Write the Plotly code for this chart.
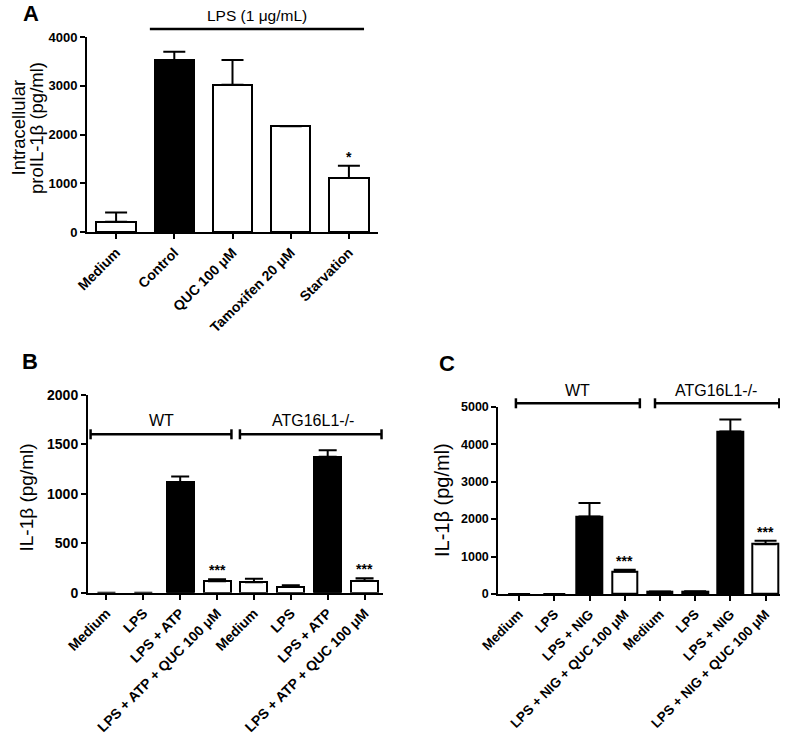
import plotly.graph_objects as go

# ---------------- data ----------------
A_cats = ["Medium", "Control", "QUC 100 μM", "Tamoxifen 20 μM", "Starvation"]
A_vals = [210, 3520, 3020, 2170, 1110]
A_err = [190, 180, 510, 0, 250]
A_fill = ["white", "black", "white", "white", "white"]
A_sig = ["", "", "", "", "*"]

B_cats = ["Medium", "LPS", "LPS + ATP", "LPS + ATP + QUC 100 μM",
          "Medium", "LPS", "LPS + ATP", "LPS + ATP + QUC 100 μM"]
B_vals = [0, 0, 1120, 115, 105, 60, 1375, 120]
B_err = [0, 0, 55, 22, 35, 15, 65, 25]
B_fill = ["white", "white", "black", "white", "white", "white", "black", "white"]
B_sig = ["", "", "", "***", "", "", "", "***"]

C_cats = ["Medium", "LPS", "LPS + NIG", "LPS + NIG + QUC 100 μM",
          "Medium", "LPS", "LPS + NIG", "LPS + NIG + QUC 100 μM"]
C_vals = [0, 0, 2070, 600, 50, 60, 4340, 1330]
C_err = [0, 0, 360, 45, 20, 15, 320, 90]
C_fill = ["white", "white", "black", "white", "white", "white", "black", "white"]
C_sig = ["", "", "", "***", "", "", "", "***"]

groups = ["WT", "ATG16L1-/-"]

# ---------------- figure ----------------
W, H = 787, 743
FONT = "Arial, Liberation Sans, sans-serif"

def px(x):
    return x / W

def py(y):
    return 1 - y / H

fig = go.Figure()

panels = [
    ("x", "y", A_cats, A_vals, A_err, A_fill, A_sig, 0.68, 11),
    ("x2", "y2", B_cats, B_vals, B_err, B_fill, B_sig, 0.73, 9),
    ("x3", "y3", C_cats, C_vals, C_err, C_fill, C_sig, 0.73, 11),
]

annotations = []
shapes = []

for xa, ya, cats, vals, err, fill, sig, bw, capw in panels:
    xs = list(range(len(cats)))
    err_plus = [e if e > 0 else None for e in err]
    err_minus = [0 if e > 0 else None for e in err]
    line_c = ["black" if v > 0 else "rgba(0,0,0,0)" for v in vals]
    fill_c = [f if v > 0 else "rgba(0,0,0,0)" for f, v in zip(fill, vals)]
    fig.add_trace(go.Bar(
        x=xs, y=vals, xaxis=xa, yaxis=ya, width=bw,
        marker=dict(color=fill_c, line=dict(color=line_c, width=2)),
        error_y=dict(type="data", array=err_plus, arrayminus=err_minus,
                     symmetric=False, color="black", thickness=2, width=capw),
        showlegend=False, hoverinfo="x+y",
    ))
    for i, s in enumerate(sig):
        if s:
            annotations.append(dict(
                x=xs[i], y=vals[i] + err[i], xref=xa, yref=ya,
                text=s, showarrow=False, yanchor="bottom", yshift=-1,
                font=dict(family=FONT, size=14, color="black", weight="bold"),
            ))

axis_common = dict(showline=True, linecolor="black", linewidth=2,
                   ticks="outside", ticklen=5, tickwidth=2, tickcolor="black",
                   showgrid=False, zeroline=False, fixedrange=True,
                   automargin=False, layer="above traces")

def tf(size):
    return dict(family=FONT, size=size, color="black", weight="bold")

fig.update_layout(
    template="none",
    width=W, height=H, margin=dict(l=0, r=0, t=0, b=0, pad=0),
    paper_bgcolor="white", plot_bgcolor="white", showlegend=False,
    bargap=0,
    xaxis=dict(domain=[px(87), px(378)], anchor="y", range=[-0.5, 4.5],
               tickvals=list(range(len(A_cats))), ticktext=A_cats,
               tickangle=-45, tickfont=tf(14), **axis_common),
    yaxis=dict(domain=[py(232), py(37)], anchor="x", range=[0, 4000], dtick=1000,
               tickfont=tf(13), **axis_common),
    xaxis2=dict(domain=[px(88), px(383)], anchor="y2", range=[-0.5, 7.5],
                tickvals=list(range(len(B_cats))), ticktext=B_cats,
                tickangle=-45, tickfont=tf(14), **axis_common),
    yaxis2=dict(domain=[py(592.7), py(395)], anchor="x2", range=[0, 2000], dtick=500,
                tickfont=tf(14), **axis_common),
    xaxis3=dict(domain=[px(498.3), px(780)], anchor="y3", range=[-0.59, 7.41],
                tickvals=list(range(len(C_cats))), ticktext=C_cats,
                tickangle=-45, tickfont=tf(13.5), **axis_common),
    yaxis3=dict(domain=[py(594), py(406.7)], anchor="x3", range=[0, 5000], dtick=1000,
                tickfont=tf(12.5), **axis_common),
)

# brackets / group labels (x in data coords of each panel, y in paper)
def bracket(xref, x0, x1, ypx, caps=True):
    shapes.append(dict(type="line", xref=xref, yref="paper", x0=x0, x1=x1,
                       y0=py(ypx), y1=py(ypx), line=dict(color="black", width=2.5)))
    if caps:
        for xx in (x0, x1):
            shapes.append(dict(type="line", xref=xref, yref="paper", x0=xx, x1=xx,
                               y0=py(ypx - 5), y1=py(ypx + 5),
                               line=dict(color="black", width=2.5)))

def label(xref, x, ypx, text, size=16):
    annotations.append(dict(x=x, y=py(ypx), xref=xref, yref="paper", text=text,
                            showarrow=False, xanchor="center", yanchor="middle",
                            font=dict(family=FONT, size=size, color="black")))

# panel A: LPS line
bracket("x", 0.58, 4.26, 29, caps=False)
label("x", 2.42, 15, "LPS (1 μg/mL)", 15.5)

# panel B
bracket("x2", -0.43, 3.39, 434.3)
bracket("x2", 3.62, 7.46, 434.3)
label("x2", 1.5, 420, groups[0])
label("x2", 5.6, 420, groups[1])

# panel C
bracket("x3", -0.09, 3.43, 403.3)
bracket("x3", 3.86, 7.39, 403.3)
label("x3", 1.67, 390, groups[0])
label("x3", 5.6, 390, groups[1])

# y-axis titles
def ytitle(xpx, ypx, text, size):
    annotations.append(dict(x=px(xpx), y=py(ypx), xref="paper", yref="paper",
                            text=text, textangle=-90, showarrow=False,
                            xanchor="center", yanchor="middle",
                            font=dict(family=FONT, size=size, color="black")))

ytitle(17.5, 128, "Intracellular", 18.5)
ytitle(36, 128, "proIL-1β (pg/ml)", 18.5)
ytitle(25.5, 498, "IL-1β (pg/ml)", 19)
ytitle(442, 500, "IL-1β (pg/ml)", 20)

# panel letters
for x, y, t in [(31, 14, "A"), (30, 362, "B"), (447, 363, "C")]:
    annotations.append(dict(x=px(x), y=py(y), xref="paper", yref="paper", text=t,
                            showarrow=False, xanchor="center", yanchor="middle",
                            font=dict(family=FONT, size=22, color="black", weight="bold")))

fig.update_layout(annotations=annotations, shapes=shapes)
fig.write_html("out.html", config={"displayModeBar": False},
               post_script="document.body.style.margin='0';")
